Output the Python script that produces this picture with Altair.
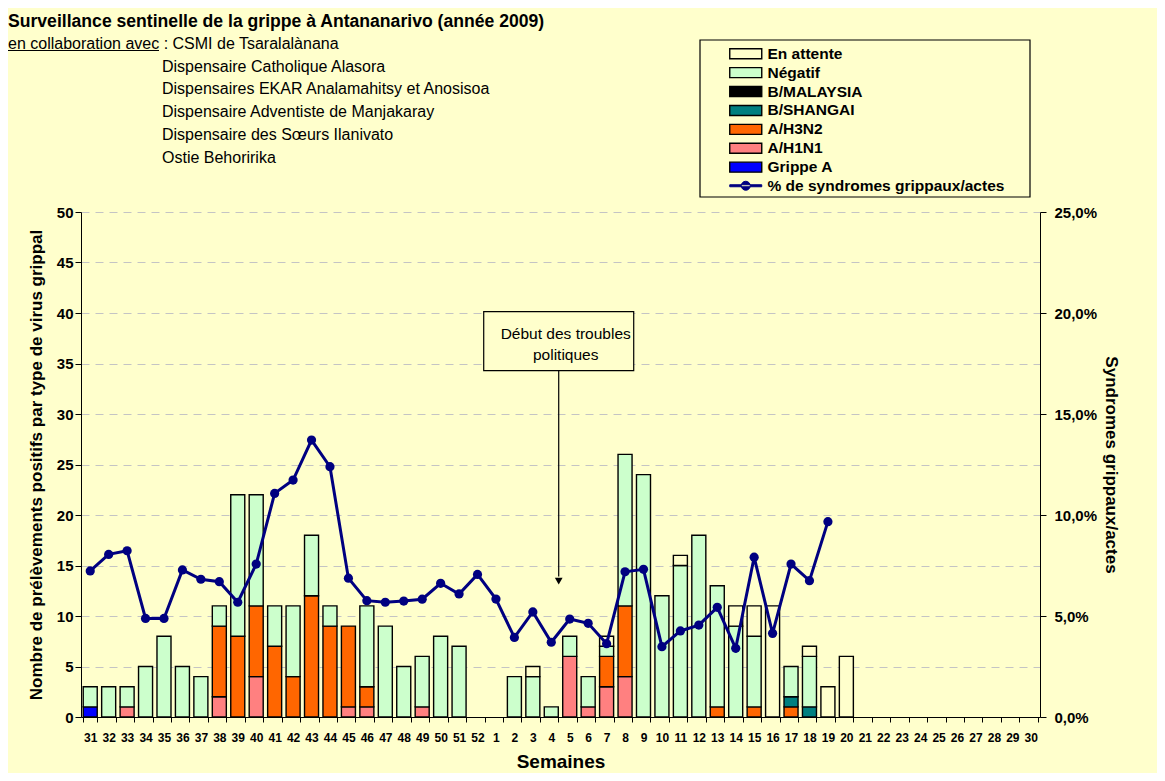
import altair as alt
import pandas as pd

FONT = "Liberation Sans"

weeks = ["31", "32", "33", "34", "35", "36", "37", "38", "39", "40", "41", "42", "43", "44",
         "45", "46", "47", "48", "49", "50", "51", "52", "1", "2", "3", "4", "5", "6", "7",
         "8", "9", "10", "11", "12", "13", "14", "15", "16", "17", "18", "19", "20", "21",
         "22", "23", "24", "25", "26", "27", "28", "29", "30"]

grippe_a   = [1, 0, 0, 0, 0, 0, 0, 0, 0, 0, 0, 0, 0, 0, 0, 0, 0, 0, 0, 0, 0, 0, 0, 0, 0, 0,
              0, 0, 0, 0, 0, 0, 0, 0, 0, 0, 0, 0, 0, 0, 0, 0, 0, 0, 0, 0, 0, 0, 0, 0, 0, 0]
a_h1n1     = [0, 0, 1, 0, 0, 0, 0, 2, 0, 4, 0, 0, 0, 0, 1, 1, 0, 0, 1, 0, 0, 0, 0, 0, 0, 0,
              6, 1, 3, 4, 0, 0, 0, 0, 0, 0, 0, 0, 0, 0, 0, 0, 0, 0, 0, 0, 0, 0, 0, 0, 0, 0]
a_h3n2     = [0, 0, 0, 0, 0, 0, 0, 7, 8, 7, 7, 4, 12, 9, 8, 2, 0, 0, 0, 0, 0, 0, 0, 0, 0, 0,
              0, 0, 3, 7, 0, 0, 0, 0, 1, 0, 1, 0, 1, 0, 0, 0, 0, 0, 0, 0, 0, 0, 0, 0, 0, 0]
b_shangai  = [0, 0, 0, 0, 0, 0, 0, 0, 0, 0, 0, 0, 0, 0, 0, 0, 0, 0, 0, 0, 0, 0, 0, 0, 0, 0,
              0, 0, 0, 0, 0, 0, 0, 0, 0, 0, 0, 0, 1, 1, 0, 0, 0, 0, 0, 0, 0, 0, 0, 0, 0, 0]
b_malaysia = [0, 0, 0, 0, 0, 0, 0, 0, 0, 0, 0, 0, 0, 0, 0, 0, 0, 0, 0, 0, 0, 0, 0, 0, 0, 0,
              0, 0, 0, 0, 0, 0, 0, 0, 0, 0, 0, 0, 0, 0, 0, 0, 0, 0, 0, 0, 0, 0, 0, 0, 0, 0]
negatif    = [2, 3, 2, 5, 8, 5, 4, 2, 14, 11, 4, 7, 6, 2, 0, 8, 9, 5, 5, 8, 7, 0, 0, 4, 4, 1,
              2, 3, 1, 15, 24, 12, 15, 18, 12, 9, 7, 0, 3, 5, 0, 0, 0, 0, 0, 0, 0, 0, 0, 0, 0, 0]
en_attente = [0, 0, 0, 0, 0, 0, 0, 0, 0, 0, 0, 0, 0, 0, 0, 0, 0, 0, 0, 0, 0, 0, 0, 0, 1, 0,
              0, 0, 1, 0, 0, 0, 1, 0, 0, 2, 3, 11, 0, 1, 3, 6, 0, 0, 0, 0, 0, 0, 0, 0, 0, 0]

pct_syndromes = [7.23, 8.05, 8.23, 4.88, 4.88, 7.28, 6.82, 6.70, 5.68, 7.57, 11.07, 11.73,
                 13.71, 12.39, 6.87, 5.76, 5.68, 5.74, 5.83, 6.62, 6.09, 7.06, 5.84, 3.94,
                 5.20, 3.70, 4.85, 4.64, 3.63, 7.19, 7.31, 3.48, 4.26, 4.55, 5.43, 3.40,
                 7.91, 4.14, 7.57, 6.75, 9.67, None, None, None, None, None, None, None,
                 None, None, None, None]

series_stack = ["Grippe A", "A/H1N1", "A/H3N2", "B/SHANGAI", "B/MALAYSIA", "Négatif", "En attente"]
series_values = [grippe_a, a_h1n1, a_h3n2, b_shangai, b_malaysia, negatif, en_attente]
legend_order = ["En attente", "Négatif", "B/MALAYSIA", "B/SHANGAI", "A/H3N2", "A/H1N1", "Grippe A"]
legend_colors = ["#FFFFCC", "#CCFFCC", "#000000", "#008080", "#FF6600", "#FF8080", "#0000FF"]
line_label = "% de syndromes grippaux/actes"

left_ticks = [0, 5, 10, 15, 20, 25, 30, 35, 40, 45, 50]
right_ticks = [0, 5, 10, 15, 20, 25]

title_text = "Surveillance sentinelle de la grippe à Antananarivo (année 2009)"
collab_line = "en collaboration avec : CSMI de Tsaralalànana"
partners = ["Dispensaire Catholique Alasora",
            "Dispensaires EKAR Analamahitsy et Anosisoa",
            "Dispensaire Adventiste de Manjakaray",
            "Dispensaire des Sœurs Ilanivato",
            "Ostie Behoririka"]
annotation_lines = ["Début des troubles", "politiques"]

rows = []
for order, (name, vals) in enumerate(zip(series_stack, series_values)):
    for w, v in zip(weeks, vals):
        if v:
            rows.append({"week": w, "serie": name, "value": v, "ord": order})
bars_df = pd.DataFrame(rows)

line_df = pd.DataFrame({"week": weeks, "pct": pct_syndromes, "serie": line_label}).dropna()

x_scale = alt.Scale(domain=weeks, paddingInner=0.24, paddingOuter=0.12)
left_scale = alt.Scale(domain=[0, 50], nice=False)
right_scale = alt.Scale(domain=[0, 25], nice=False)
dummy = pd.DataFrame({"a": [0]})

x_axis = alt.Axis(title="Semaines", labelAngle=0, tickBand="extent",
                  labelFont=FONT, labelFontSize=12, labelFontWeight="bold",
                  labelColor="black", titleFont=FONT, titleFontSize=19,
                  titleFontWeight="bold", titleColor="black", domainColor="black",
                  tickColor="black", tickSize=5, labelPadding=10, titlePadding=9,
                  grid=False)
left_axis = alt.Axis(title="Nombre de prélèvements positifs par type de virus grippal",
                     values=left_ticks, labelFont=FONT, labelFontSize=15,
                     labelFontWeight="bold", labelColor="black", titleFont=FONT,
                     titleFontSize=17, titleFontWeight="bold", titleColor="black",
                     domainColor="black", tickColor="black", tickSize=6,
                     gridColor="#C4C4C4", gridDash=[8, 6], titlePadding=11)
right_axis = alt.Axis(orient="right", title="Syndromes grippaux/actes",
                      values=right_ticks,
                      labelExpr="replace(format(datum.value, '.1f'), '.', ',') + '%'",
                      labelFont=FONT, labelFontSize=15, labelFontWeight="bold",
                      labelColor="black", titleFont=FONT, titleFontSize=17,
                      titleFontWeight="bold", titleColor="black", domainColor="black",
                      tickColor="black", tickSize=6, labelPadding=8, grid=False,
                      titlePadding=5)

bars = alt.Chart(bars_df).mark_bar(stroke="black", strokeWidth=1.4).encode(
    x=alt.X("week:N", scale=x_scale, sort=weeks, axis=x_axis),
    y=alt.Y("value:Q", stack="zero", scale=left_scale, axis=left_axis),
    fill=alt.Fill("serie:N", scale=alt.Scale(domain=legend_order, range=legend_colors),
                  legend=alt.Legend(title=None, orient="none", legendX=657, legendY=-166,
                                    symbolType="M-3.2,-1H3.2V1H-3.2Z", symbolSize=100,
                                    symbolStrokeColor="black", symbolStrokeWidth=1.4,
                                    symbolOpacity=1, labelFont=FONT, labelFontSize=15.5,
                                    labelFontWeight="bold", labelColor="black",
                                    labelOffset=14, rowPadding=0.9, padding=0,
                                    labelLimit=400)),
    order=alt.Order("ord:Q", sort="ascending"),
)

ann_x = alt.X(datum="5", type="nominal", scale=x_scale, axis=x_axis)

ann_box = alt.Chart(dummy).mark_bar(fill="#FFFFCC", stroke="black", strokeWidth=1.2,
                                   width=150).encode(
    x=ann_x, xOffset=alt.value(-4),
    y=alt.Y(datum=40.13, type="quantitative", scale=left_scale, axis=left_axis),
    y2=alt.Y2(datum=34.29),
)
ann_text = alt.Chart(dummy).mark_text(text=annotation_lines, font=FONT, fontSize=15.5,
                                      color="black", lineHeight=21, baseline="middle",
                                      dx=-4).encode(
    x=ann_x,
    y=alt.Y(datum=37.9, type="quantitative", scale=left_scale, axis=left_axis),
)
ann_arrow = alt.Chart(dummy).mark_rule(color="black", strokeWidth=1.2).encode(
    x=ann_x, xOffset=alt.value(-4),
    y=alt.Y(datum=34.29, type="quantitative", scale=left_scale, axis=left_axis),
    y2=alt.Y2(datum=13.9),
)
ann_head = alt.Chart(dummy).mark_point(shape="triangle-down", filled=True, color="black",
                                       size=60, opacity=1).encode(
    x=ann_x, xOffset=alt.value(-4),
    y=alt.Y(datum=13.45, type="quantitative", scale=left_scale, axis=left_axis),
)

title = alt.Chart(dummy).mark_text(text=title_text, font=FONT, fontSize=17.6,
                                   fontWeight="bold", color="black", align="left",
                                   baseline="alphabetic").encode(
    x=alt.value(-73), y=alt.value(-185.5))
collab = alt.Chart(dummy).mark_text(text=collab_line, font=FONT, fontSize=16,
                                    color="black", align="left",
                                    baseline="alphabetic").encode(
    x=alt.value(-73), y=alt.value(-163.5))
underline = alt.Chart(dummy).mark_rule(color="black", strokeWidth=1).encode(
    x=alt.value(-73), x2=alt.value(78), y=alt.value(-161.5))
partner_text = alt.Chart(dummy).mark_text(text=partners, font=FONT, fontSize=16,
                                          color="black", align="left", lineHeight=22.8,
                                          baseline="alphabetic").encode(
    x=alt.value(81), y=alt.value(-140.5))
legend_frame = alt.Chart(dummy).mark_rect(fill="#FFFFCC", stroke="black",
                                          strokeWidth=1.2).encode(
    x=alt.value(619), x2=alt.value(949), y=alt.value(-172), y2=alt.value(-15))

left = alt.layer(legend_frame, title, collab, underline, partner_text,
                 bars, ann_box, ann_text, ann_arrow, ann_head)

line = alt.Chart(line_df).mark_line(strokeWidth=3).encode(
    x=alt.X("week:N", scale=x_scale, sort=weeks, axis=x_axis),
    y=alt.Y("pct:Q", scale=right_scale, axis=right_axis),
    stroke=alt.Stroke("serie:N", scale=alt.Scale(domain=[line_label], range=["#000080"]),
                      legend=alt.Legend(title=None, orient="none", legendX=657,
                                        legendY=-34,
                                        symbolType="M-3.2,-0.2H3.2V0.2H-3.2Z M-0.9,0A0.9,0.9 0 1,0 0.9,0A0.9,0.9 0 1,0 -0.9,0Z",
                                        symbolSize=100, symbolFillColor="#000080",
                                        symbolStrokeColor="#000080", symbolStrokeWidth=1,
                                        labelFont=FONT, labelFontSize=15.5,
                                        labelFontWeight="bold", labelColor="black",
                                        labelOffset=14, padding=0, labelLimit=400)),
)
points = alt.Chart(line_df).mark_point(filled=True, size=85, color="#000080",
                                       opacity=1).encode(
    x=alt.X("week:N", scale=x_scale, sort=weeks, axis=x_axis),
    y=alt.Y("pct:Q", scale=right_scale, axis=right_axis),
)
right = alt.layer(line, points)

chart = alt.layer(left, right).resolve_scale(y="independent").properties(
    width=959, height=505,
    autosize=alt.AutoSizeParams(type="none"),
    padding={"left": 73, "top": 204, "right": 117, "bottom": 56},
    background="#FFFFCC",
).configure_view(strokeWidth=0)

chart.save("out.html", embed_options={"renderer": "svg", "actions": False})
